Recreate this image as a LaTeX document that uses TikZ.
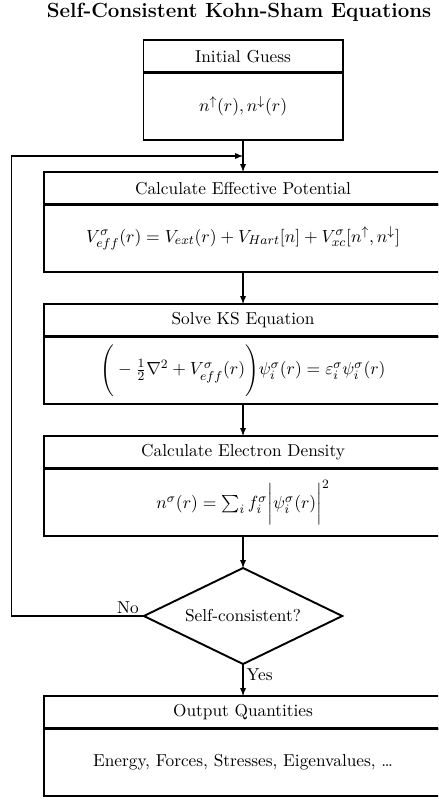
\documentclass[tikz,border=0pt]{standalone}
\usepackage{amsmath,amsfonts,amssymb}
\usepackage{tikz}
\usetikzlibrary{shapes,arrows,positioning}

\begin{document}
\begin{tikzpicture}[
    font=\fontsize{10.8}{13}\selectfont,
    head/.style={draw, rectangle, line width=1.2pt, minimum width=248.75pt, minimum height=20.5pt, inner sep=0pt, outer sep=0pt},
    body/.style={head, minimum height=42pt},
    decision/.style={draw, diamond, shape aspect=2, line width=1.2pt, minimum width=124pt, minimum height=60pt, inner sep=0pt, outer sep=0pt},
    divider/.style={line width=2pt},
    arrow/.style={-latex, line width=0.7pt},
    node distance=20pt
]
\clip (0,0) rectangle (273.75pt,-500pt);

\node[font=\fontsize{12.8}{15}\selectfont\bfseries] (title) at (149.4pt,-7.5pt) {Self-Consistent Kohn-Sham Equations};

\node[head, minimum width=124.4pt, anchor=north] (guess) at (151.9pt,-25pt) {Initial Guess};
\node[body, minimum width=124.4pt, below=0pt of guess] (guessb) {$n^{\uparrow}(r), n^{\downarrow}(r)$};

\node[head, below=of guessb] (pot) {Calculate Effective Potential};
\node[body, below=0pt of pot] (potb) {$V^{\sigma}_{eff}(r) = V_{ext}(r) + V_{Hart}[n] + V^{\sigma}_{xc}[n^{\uparrow}, n^{\downarrow}]$};

\node[head, below=of potb] (ks) {Solve KS Equation};
\node[body, below=0pt of ks] (ksb) {$\Bigg(-\frac{1}{2}\nabla^2 + V^{\sigma}_{eff}(r)\Bigg)\psi^{\sigma}_i(r) = \varepsilon^{\sigma}_i\psi^{\sigma}_i(r)$};

\node[head, below=of ksb] (dens) {Calculate Electron Density};
\node[body, below=0pt of dens] (densb) {$n^{\sigma}(r) = \sum_i f^{\sigma}_i \bigg|\psi^{\sigma}_i(r)\bigg|^2$};

\node[decision, below=of densb] (check) {Self-consistent?};

\node[head, below=of check] (out) {Output Quantities};
\node[body, below=0pt of out] (outb) {Energy, Forces, Stresses, Eigenvalues, \dots};

\foreach \h in {guess,pot,ks,dens,out}
    \draw[divider] (\h.south west) -- (\h.south east);

\coordinate[below=10pt of guessb] (join);
\coordinate[left=82.5pt of check.west] (back);

\draw[arrow] (guessb) -- (pot);
\draw[arrow] (potb) -- (ks);
\draw[arrow] (ksb) -- (dens);
\draw[arrow] (densb) -- (check);
\draw[arrow] (check) -- (out);
\draw[arrow] (check.west) -- (back) |- (join);

\node[above left=0pt and 2pt of check.west, inner sep=1pt] (no) {No};
\node[below right=1.5pt and 1pt of check.south, inner sep=1pt] (yes) {Yes};

\end{tikzpicture}
\end{document}
